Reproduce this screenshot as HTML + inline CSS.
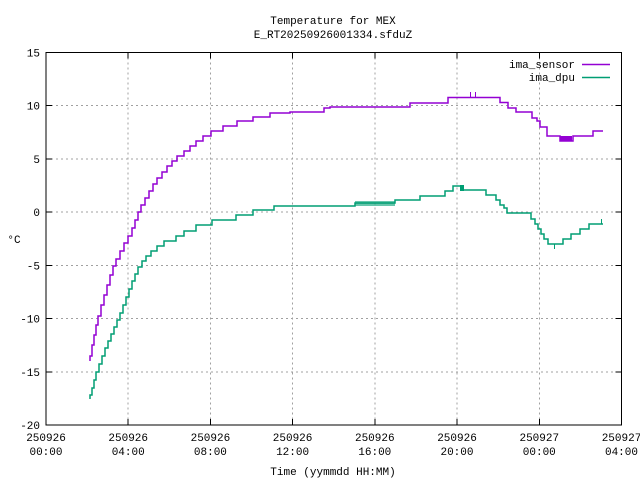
<!DOCTYPE html>
<html><head><style>
body{margin:0;background:#fff}
svg{display:block}
text{font-family:"Liberation Mono","DejaVu Sans Mono",monospace;font-size:11px;fill:#000}
</style></head><body>
<svg width="640" height="480" xmlns="http://www.w3.org/2000/svg">
<rect width="640" height="480" fill="#fff"/>
<g stroke="#a0a0a0" stroke-dasharray="2,3" stroke-width="1" shape-rendering="crispEdges">
<line x1="46" x2="621.5" y1="105.7" y2="105.7"/>
<line x1="46" x2="621.5" y1="158.9" y2="158.9"/>
<line x1="46" x2="621.5" y1="212.1" y2="212.1"/>
<line x1="46" x2="621.5" y1="265.4" y2="265.4"/>
<line x1="46" x2="621.5" y1="318.6" y2="318.6"/>
<line x1="46" x2="621.5" y1="371.8" y2="371.8"/>
<line y1="52.5" y2="425" x1="128.2" x2="128.2"/>
<line y1="52.5" y2="425" x1="210.4" x2="210.4"/>
<line y1="52.5" y2="425" x1="292.6" x2="292.6"/>
<line y1="52.5" y2="425" x1="374.8" x2="374.8"/>
<line y1="52.5" y2="425" x1="457" x2="457"/>
<line y1="52.5" y2="425" x1="539.3" x2="539.3"/>
</g>
<rect x="46" y="52.5" width="575.5" height="372.5" fill="none" stroke="#000" stroke-width="1" shape-rendering="crispEdges"/>
<g stroke="#000" shape-rendering="crispEdges">
<line x1="46" x2="52" y1="105.7" y2="105.7"/><line x1="46" x2="52" y1="158.9" y2="158.9"/><line x1="46" x2="52" y1="212.1" y2="212.1"/><line x1="46" x2="52" y1="265.4" y2="265.4"/><line x1="46" x2="52" y1="318.6" y2="318.6"/><line x1="46" x2="52" y1="371.8" y2="371.8"/>
<line x1="615.5" x2="621.5" y1="105.7" y2="105.7"/><line x1="615.5" x2="621.5" y1="158.9" y2="158.9"/><line x1="615.5" x2="621.5" y1="212.1" y2="212.1"/><line x1="615.5" x2="621.5" y1="265.4" y2="265.4"/><line x1="615.5" x2="621.5" y1="318.6" y2="318.6"/><line x1="615.5" x2="621.5" y1="371.8" y2="371.8"/>
<line y1="425" y2="419" x1="128.2" x2="128.2"/><line y1="425" y2="419" x1="210.4" x2="210.4"/><line y1="425" y2="419" x1="292.6" x2="292.6"/><line y1="425" y2="419" x1="374.8" x2="374.8"/><line y1="425" y2="419" x1="457" x2="457"/><line y1="425" y2="419" x1="539.3" x2="539.3"/>
<line y1="52.5" y2="58.5" x1="128.2" x2="128.2"/><line y1="52.5" y2="58.5" x1="210.4" x2="210.4"/><line y1="52.5" y2="58.5" x1="292.6" x2="292.6"/><line y1="52.5" y2="58.5" x1="374.8" x2="374.8"/><line y1="52.5" y2="58.5" x1="457" x2="457"/><line y1="52.5" y2="58.5" x1="539.3" x2="539.3"/>
</g>
<g text-anchor="end">
<text x="40" y="56.5">15</text><text x="40" y="109.7">10</text><text x="40" y="162.9">5</text><text x="40" y="216.1">0</text><text x="40" y="269.4">-5</text><text x="40" y="322.6">-10</text><text x="40" y="375.8">-15</text><text x="40" y="429">-20</text>
</g>
<g text-anchor="middle">
<text x="46" y="441">250926</text><text x="46" y="455">00:00</text>
<text x="128.2" y="441">250926</text><text x="128.2" y="455">04:00</text>
<text x="210.4" y="441">250926</text><text x="210.4" y="455">08:00</text>
<text x="292.6" y="441">250926</text><text x="292.6" y="455">12:00</text>
<text x="374.8" y="441">250926</text><text x="374.8" y="455">16:00</text>
<text x="457" y="441">250926</text><text x="457" y="455">20:00</text>
<text x="539.3" y="441">250927</text><text x="539.3" y="455">00:00</text>
<text x="621.5" y="441">250927</text><text x="621.5" y="455">04:00</text>
<text x="333" y="24">Temperature for MEX</text>
<text x="333" y="38">E_RT20250926001334.sfduZ</text>
<text x="333" y="475">Time (yymmdd HH:MM)</text>
<text x="14" y="243">°C</text>
</g>
<text x="575" y="68" text-anchor="end">ima_sensor</text>
<text x="575" y="81" text-anchor="end">ima_dpu</text>
<line x1="582" x2="610" y1="64.5" y2="64.5" stroke="#9400d3" stroke-width="1.5"/>
<line x1="582" x2="610" y1="77.5" y2="77.5" stroke="#009e73" stroke-width="1.5"/>
<polyline fill="none" stroke="#9400d3" stroke-width="1.5" points="90,361 90,356 92,356 92,345 94,345 94,335 96,335 96,325 98,325 98,316 101,316 101,305 104,305 104,295 107,295 107,285 110,285 110,275 113,275 113,266 116,266 116,259 120,259 120,251 124,251 124,243 128,243 128,236 132,236 132,228 135,228 135,220 138,220 138,212 141,212 141,205 145,205 145,198 149,198 149,191 153,191 153,184 157,184 157,178 162,178 162,172 167,172 167,166 172,166 172,161 177,161 177,156 184,156 184,151 190,151 190,146 196,146 196,141 203,141 203,136 211,136 211,131 223,131 223,126 237,126 237,121 253,121 253,117 270,117 270,113 290,113 290,112 324,112 324,108 330,108 330,107 410,107 410,103 448,103 448,97.5 500,97.5 500,102.5 508,102.5 508,108 516,108 516,112 532,112 532,118 537,118 537,121 540,121 540,127 547,127 547,136 560,136 560,141 573,141 573,136 593,136 593,131 603,131"/>
<polyline fill="none" stroke="#009e73" stroke-width="1.5" points="90,399 90,395 92,395 92,388 94,388 94,380 96,380 96,372 99,372 99,364 102,364 102,356 105,356 105,348 108,348 108,341 111,341 111,334 114,334 114,327 117,327 117,320 120,320 120,313 123,313 123,305 126,305 126,297 129,297 129,289 132,289 132,281 135,281 135,274 138,274 138,267 142,267 142,261 146,261 146,256 151,256 151,251 157,251 157,246 164,246 164,241 176,241 176,236 184,236 184,231 196,231 196,225 212,225 212,220 236,220 236,215 253,215 253,210 274,210 274,206 355,206 355,203 395,203 395,200 420,200 420,196 445,196 445,191 453,191 453,186 462,186 462,190 486,190 486,195 496,195 496,200 500,200 500,205 504,205 504,208 507,208 507,213 531,213 531,219 535,219 535,224 538,224 538,229 541,229 541,234 544,234 544,239 548,239 548,244 563,244 563,239 571,239 571,234 580,234 580,229 589,229 589,224 603,224"/>
<g stroke="#9400d3"><rect x="560" y="136" width="12" height="5" fill="#9400d3" stroke="none"/><line x1="470.5" x2="470.5" y1="92" y2="98"/><line x1="475.5" x2="475.5" y1="92" y2="98"/></g>
<g stroke="#009e73"><rect x="460" y="185" width="4" height="6" fill="#009e73" stroke="none"/><line x1="601.5" x2="601.5" y1="219" y2="224"/><line x1="554.5" x2="554.5" y1="244" y2="249"/><rect x="355" y="201" width="40" height="5" fill="#009e73" stroke="none" opacity="0.6"/></g>
</svg>
</body></html>
